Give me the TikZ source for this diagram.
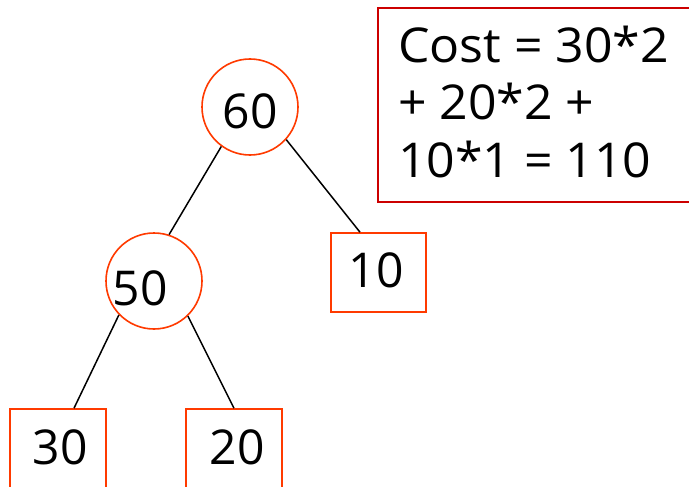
\documentclass[tikz,border=0pt]{standalone}
\usepackage{fontspec}
\setmainfont{Open Sans}
\usetikzlibrary{calc}
\definecolor{nodeedge}{RGB}{255,58,0}
\definecolor{notebox}{RGB}{204,0,0}
\begin{document}
\begin{tikzpicture}[x=1pt,y=-1pt,
  every node/.style={font=\fontsize{48}{58}\selectfont, text=black},
  treecircle/.style={circle, draw=nodeedge, line width=1.6pt, minimum size=96pt, inner sep=0pt},
  leafbox/.style={rectangle, draw=nodeedge, line width=1.6pt, inner sep=0pt},
  edge/.style={draw=black, line width=1.5pt},
  costline/.style={anchor=base west, inner sep=0pt, xscale=1.04}]
\useasboundingbox (0,0) rectangle (689,487);
% internal nodes
\node[treecircle] (n60) at (250,107) {};
\node (t60) at (250,111) {60};
\node[treecircle] (n50) at (154,281) {};
\node (t50) at (140,288) {50};
% leaves
\node[leafbox, minimum width=95pt, minimum height=79pt] (b10) at (378.5,272.5) {};
\node (t10) at (376,270) {10};
\node[leafbox, minimum width=96pt, minimum height=96pt] (b30) at (58,457) {};
\node (t30) at (60,447) {30};
\node[leafbox, minimum width=96pt, minimum height=96pt] (b20) at (234,457) {};
\node (t20) at (237,447) {20};
% cost box
\node[rectangle, draw=notebox, line width=1.6pt, minimum width=316pt, minimum height=194pt] (cost) at (536,105) {};
\node[costline] (c1) at (398,63) {Cost = 30*2};
\node[costline] (c2) at (398,120) {+ 20*2 +};
\node[costline] (c3) at (398,177) {10*1 = 110};
% edges
\draw[edge] (n60.234) -- (n50.72);
\draw[edge] (n60.318) -- ($(b10.north)+(-18.5,0)$);
\draw[edge] (n50.224) -- ($(b30.north)+(16,0)$);
\draw[edge] (n50.314) -- (b20.north);
\end{tikzpicture}
\end{document}
